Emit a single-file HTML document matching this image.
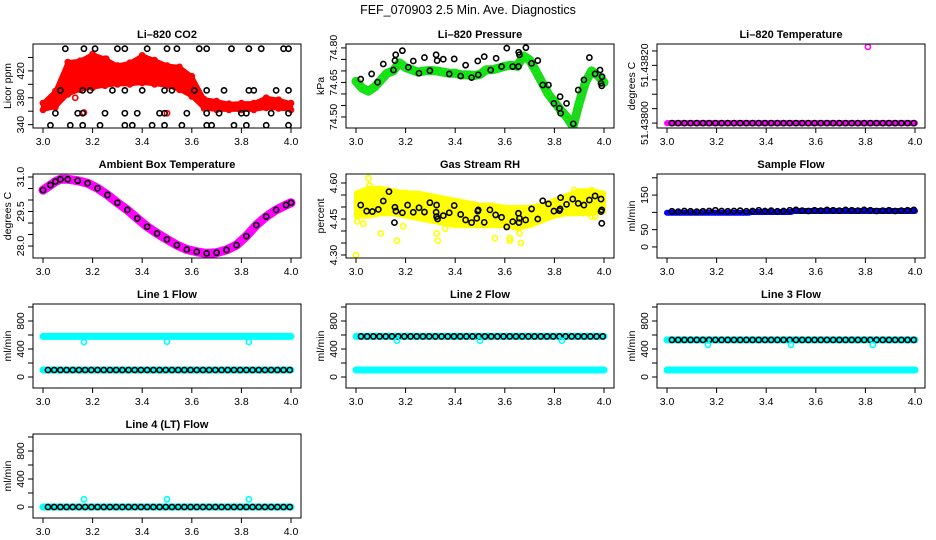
<!DOCTYPE html>
<html><head><meta charset="utf-8"><style>
html,body{margin:0;padding:0;background:#fff;}
svg{display:block;font-family:"Liberation Sans",Arial,sans-serif;}
</style></head><body>
<svg id="chart" width="936" height="540" viewBox="0 0 936 540">
<text x="468" y="14" text-anchor="middle" font-size="12.5">FEF_070903  2.5 Min. Ave. Diagnostics</text>
</svg>
<script>
// ---------- data ----------
const avgTimes = [3.02,3.045,3.07,3.095,3.12,3.145,3.17,3.195,3.22,3.245,3.27,3.295,3.32,3.345,3.37,3.395,3.42,3.445,3.47,3.495,3.52,3.545,3.57,3.595,3.62,3.645,3.67,3.695,3.72,3.745,3.77,3.795,3.82,3.845,3.87,3.895,3.92,3.945,3.97,3.995];

const co2T = [3.00,3.05,3.10,3.15,3.20,3.25,3.30,3.35,3.40,3.45,3.50,3.55,3.60,3.65,3.70,3.75,3.80,3.85,3.90,3.95,4.00];
const co2Upper = [372,390,433,435,445,438,428,432,443,436,428,426,412,378,375,371,372,372,380,377,372];
const co2Lower = [362,366,385,392,395,398,400,400,402,400,398,392,382,364,362,362,362,362,365,364,362];
const co2OutT = [3.06,3.105,3.165,3.5,3.255,3.42,3.19,3.13];
const co2OutV = [385,388,358,357,438,432,427,380];
const co2BlackT = [3.09,3.165,3.21,3.30,3.33,3.42,3.50,3.54,3.63,3.66,3.76,3.83,3.88,3.97,3.99,
  3.07,3.16,3.19,3.28,3.33,3.40,3.49,3.52,3.61,3.66,3.73,3.83,3.85,3.94,3.99,
  3.05,3.14,3.16,3.25,3.33,3.38,3.47,3.49,3.58,3.66,3.71,3.80,3.82,3.92,3.99,
  3.03,3.11,3.16,3.23,3.33,3.36,3.44,3.49,3.56,3.66,3.68,3.77,3.82,3.90,3.99];
const co2BlackV = [453,453,453,453,453,453,453,453,453,453,453,453,453,453,453,
  391,391,391,391,391,391,391,391,391,391,391,391,391,391,391,
  357,357,357,357,357,357,357,357,357,357,357,357,357,357,357,
  339,339,339,339,339,339,339,339,339,339,339,339,339,339,339];

const presT = [3.000,3.025,3.050,3.075,3.100,3.125,3.150,3.175,3.200,3.225,3.250,3.275,3.300,3.325,3.350,3.375,3.400,3.425,3.450,3.475,3.500,3.525,3.550,3.575,3.600,3.625,3.650,3.675,3.700,3.725,3.750,3.775,3.800,3.825,3.850,3.875,3.900,3.925,3.950,3.975,4.000];
const presGreen = [74.655,74.625,74.612,74.630,74.660,74.690,74.700,74.735,74.715,74.705,74.695,74.700,74.702,74.700,74.695,74.690,74.690,74.683,74.683,74.680,74.685,74.705,74.705,74.712,74.720,74.725,74.720,74.765,74.748,74.700,74.650,74.600,74.565,74.530,74.500,74.458,74.560,74.650,74.700,74.680,74.650];
const presBlackT = [3.019,3.063,3.087,3.110,3.151,3.157,3.160,3.187,3.211,3.231,3.254,3.276,3.298,3.323,3.327,3.352,3.376,3.396,3.422,3.442,3.466,3.491,3.493,3.517,3.543,3.565,3.587,3.608,3.632,3.655,3.656,3.659,3.685,3.708,3.733,3.753,3.776,3.798,3.820,3.823,3.825,3.849,3.876,3.896,3.919,3.941,3.964,3.984,3.988,3.991,3.992];
const presBlackV = [74.664,74.687,74.651,74.730,74.704,74.745,74.770,74.788,74.716,74.743,74.690,74.758,74.701,74.770,74.745,74.751,74.687,74.752,74.678,74.725,74.671,74.743,74.683,74.762,74.704,74.755,74.719,74.799,74.719,74.719,74.781,74.770,74.801,74.733,74.745,74.639,74.639,74.559,74.538,74.588,74.516,74.559,74.470,74.617,74.661,74.758,74.687,74.704,74.646,74.635,74.675];

const tempBandT = [3.00,4.00];
const tempBandV = [51.43800,51.43800];
const tempBlack = [51.438,51.438,51.438,51.438,51.438,51.438,51.438,51.438,51.438,51.438,51.438,51.438,51.438,51.438,51.438,51.438,51.438,51.438,51.438,51.438,51.438,51.438,51.438,51.438,51.438,51.438,51.438,51.438,51.438,51.438,51.438,51.438,51.438,51.438,51.438,51.438,51.438,51.438,51.438,51.438];
const tempOutT = [3.81];
const tempOutV = [51.438264];

const ambT = [3.00,3.03,3.05,3.07,3.10,3.14,3.18,3.22,3.26,3.30,3.34,3.38,3.42,3.46,3.50,3.54,3.58,3.62,3.66,3.70,3.74,3.78,3.82,3.86,3.90,3.94,3.98,4.00];
const ambV = [30.43,30.65,30.80,30.90,30.90,30.84,30.73,30.51,30.22,29.88,29.57,29.20,28.84,28.55,28.29,28.04,27.85,27.75,27.68,27.71,27.83,28.04,28.43,28.91,29.28,29.57,29.78,29.88];

const rhT = [3.00,3.05,3.10,3.15,3.20,3.25,3.30,3.35,3.40,3.45,3.50,3.55,3.60,3.65,3.70,3.75,3.80,3.85,3.90,3.95,4.00];
const rhUpper = [4.56,4.58,4.58,4.57,4.56,4.56,4.55,4.54,4.53,4.52,4.51,4.51,4.50,4.50,4.50,4.51,4.53,4.55,4.57,4.57,4.56];
const rhLower = [4.46,4.46,4.47,4.47,4.46,4.45,4.44,4.43,4.42,4.42,4.42,4.42,4.42,4.41,4.42,4.44,4.46,4.47,4.47,4.47,4.48];
const rhOutT = [3.00,3.005,3.03,3.05,3.055,3.10,3.165,3.19,3.325,3.33,3.36,3.56,3.62,3.62,3.665,3.66,3.95,3.965,3.125,3.20,3.88,3.95];
const rhOutV = [4.30,4.44,4.43,4.62,4.59,4.39,4.36,4.42,4.39,4.36,4.41,4.37,4.36,4.37,4.35,4.39,4.46,4.46,4.57,4.56,4.57,4.57];
const rhBlackT = [3.019,3.043,3.066,3.090,3.110,3.133,3.155,3.157,3.161,3.187,3.208,3.231,3.254,3.276,3.298,3.323,3.325,3.325,3.329,3.352,3.376,3.396,3.422,3.442,3.466,3.487,3.491,3.493,3.517,3.540,3.563,3.587,3.608,3.632,3.655,3.657,3.659,3.684,3.708,3.733,3.753,3.776,3.798,3.820,3.823,3.825,3.849,3.874,3.896,3.919,3.941,3.964,3.988,3.988,3.991,3.991];
const rhBlackV = [4.508,4.483,4.481,4.490,4.525,4.564,4.435,4.499,4.483,4.476,4.508,4.478,4.497,4.479,4.518,4.478,4.508,4.460,4.450,4.464,4.476,4.506,4.469,4.446,4.435,4.453,4.483,4.488,4.436,4.488,4.467,4.457,4.417,4.439,4.474,4.435,4.453,4.446,4.492,4.450,4.526,4.513,4.483,4.485,4.492,4.539,4.511,4.533,4.515,4.508,4.529,4.546,4.533,4.481,4.488,4.432];

const sampBlueT = [3.00,3.33,3.34,3.50,3.51,4.00];
const sampBlueV = [99,99,101,101,104,104];
const sampBlack = [103,102,104,103,102,103,104,106,104,103,104,105,103,104,106,104,105,103,104,106,107,105,104,106,105,107,106,105,107,106,105,107,106,104,105,106,104,105,106,107];

const bandT = [3.00,4.00];
const line1CyanHi = [580,580];
const line1CyanLo = [100,100];
const line1Black = [100,100,100,100,100,100,100,100,100,100,100,100,100,100,100,100,100,100,100,100,100,100,100,100,100,100,100,100,100,100,100,100,100,100,100,100,100,100,100,100];
const line2CyanHi = [580,580];
const line2CyanLo = [100,100];
const line2Black = [580,580,580,580,580,580,580,580,580,580,580,580,580,580,580,580,580,580,580,580,580,580,580,580,580,580,580,580,580,580,580,580,580,580,580,580,580,580,580,580];
const line3CyanHi = [530,530];
const line3CyanLo = [100,100];
const line3Black = [530,530,530,530,530,530,530,530,530,530,530,530,530,530,530,530,530,530,530,530,530,530,530,530,530,530,530,530,530,530,530,530,530,530,530,530,530,530,530,530];
const line4CyanLo = [0,0];
const line4Black = [0,0,0,0,0,0,0,0,0,0,0,0,0,0,0,0,0,0,0,0,0,0,0,0,0,0,0,0,0,0,0,0,0,0,0,0,0,0,0,0];
const dipT = [3.165,3.50,3.83];
const line1Dip = [500,505,500];
const line2Dip = [520,520,520];
const line3Dip = [460,460,460];
const line4Dip = [110,110,110];

const xTicks = [3.0,3.2,3.4,3.6,3.8,4.0];
const xTickLabels = ['3.0','3.2','3.4','3.6','3.8','4.0'];
const co2Ticks = [340,360,380,400,420,440];
const co2Labels = ['340','','380','','420',''];
const presTicks = [74.50,74.55,74.60,74.65,74.70,74.75,74.80];
const presLabels = ['74.50','','','74.65','','','74.80'];
const tempTicks = [51.43800,51.43805,51.43810,51.43815,51.43820,51.43825];
const tempLabels = ['51.43800','','','','51.43820',''];
const ambTicks = [28.0,28.5,29.0,29.5,30.0,30.5,31.0];
const ambLabels = ['28.0','','','29.5','','','31.0'];
const rhTicks = [4.30,4.35,4.40,4.45,4.50,4.55,4.60];
const rhLabels = ['4.30','','','4.45','','','4.60'];
const sampTicks = [0,50,100,150,200];
const sampLabels = ['0','50','','150',''];
const flowTicks = [0,200,400,600,800,1000];
const flowLabels = ['0','','400','','800',''];

// ---------- drawing ----------
const NS = 'http://www.w3.org/2000/svg';
const svg = document.getElementById('chart');
function mk(tag, attrs, parent) {
  const e = document.createElementNS(NS, tag);
  for (const k in attrs) e.setAttribute(k, attrs[k]);
  (parent || svg).appendChild(e);
  return e;
}
const colLeft = [33, 346, 657];
const rowTop = [44, 174, 304, 434];
const W = 268, H = 84;

function panel(col, row, yMin, yMax, name) {
  const left = colLeft[col], top = rowTop[row];
  const g = mk('g', {});
  
  
  const cid = 'clip-' + name;
  const cp = mk('clipPath', {id: cid}, g);
  mk('rect', {x: left, y: top, width: W, height: H}, cp);
  const plot = mk('g', {'clip-path': 'url(#' + cid + ')'}, g);
  return {
    left, top, g, plot,
    sx: t => left + 10 + (t - 3) * 248,
    sy: v => top + H - (v - yMin) / (yMax - yMin) * H
  };
}

function axes(p, title, ylab, yTicks, yLabels) {
  const t = mk('text', {x: p.left + W / 2, y: p.top - 6, 'text-anchor': 'middle', 'font-size': 11, 'font-weight': 'bold'}, p.g);
  t.textContent = title;
  
  
  const box = mk('rect', {x: p.left, y: p.top, width: W, height: H, fill: 'none', stroke: '#000', 'stroke-width': 1}, p.g);
  
  
  const xa = mk('g', {}, p.g);
  
  
  xTicks.forEach((v, i) => {
    const x = p.sx(v);
    mk('line', {x1: x, x2: x, y1: p.top + H, y2: p.top + H + 5, stroke: '#000'}, xa);
    const l = mk('text', {x: x, y: p.top + H + 17, 'text-anchor': 'middle', 'font-size': 10.5}, xa);
    l.textContent = xTickLabels[i];
    
    
  });
  const ya = mk('g', {}, p.g);
  
  
  yTicks.forEach((v, i) => {
    const y = p.sy(v);
    mk('line', {x1: p.left - 5, x2: p.left, y1: y, y2: y, stroke: '#000'}, ya);
    if (yLabels[i]) {
      const lx = p.left - 9;
      const l = mk('text', {x: lx, y: y, 'text-anchor': 'middle', 'font-size': 10.5, transform: 'rotate(-90 ' + lx + ' ' + y + ')'}, ya);
      l.textContent = yLabels[i];
      
      
    }
  });
  const tx = p.left - 22, ty = p.top + H / 2;
  const yt = mk('text', {x: tx, y: ty, 'text-anchor': 'middle', 'font-size': 10.5, transform: 'rotate(-90 ' + tx + ' ' + ty + ')'}, p.g);
  yt.textContent = ylab;
  
  
}

function dots(p, ts, vs, color, name, sw) {
  ts.forEach((t, i) => {
    const c = mk('circle', {cx: p.sx(t), cy: p.sy(vs[i]), r: 2.6, fill: 'none', stroke: color, 'stroke-width': sw || 1.6}, p.plot);
    
    
  });
}
function band(p, ts, vs, color, width, name) {
  const pts = ts.map((t, i) => p.sx(t) + ',' + p.sy(vs[i])).join(' ');
  const l = mk('polyline', {points: pts, fill: 'none', stroke: color, 'stroke-width': width, 'stroke-linejoin': 'round', 'stroke-linecap': 'round'}, p.plot);
  
  
}
function area(p, ts, hi, lo, color, name) {
  const up = ts.map((t, i) => p.sx(t) + ',' + p.sy(hi[i]));
  const dn = ts.map((t, i) => p.sx(t) + ',' + p.sy(lo[i])).reverse();
  const a = mk('polygon', {points: up.concat(dn).join(' '), fill: color, stroke: color, 'stroke-width': 4, 'stroke-linejoin': 'round'}, p.plot);
  
  
}

// Li-820 CO2
let p = panel(0, 0, 335, 460, 'co2-panel');
area(p, co2T, co2Upper, co2Lower, '#ff0000', 'co2-band');
dots(p, co2T, co2Upper, '#ff0000', 'co2-point');
dots(p, co2T, co2Lower, '#ff0000', 'co2-point');
dots(p, co2OutT, co2OutV, '#ff0000', 'co2-outlier');
dots(p, co2BlackT, co2BlackV, '#000', 'co2-average-point');
axes(p, 'Li\u2013820 CO2', 'Licor ppm', co2Ticks, co2Labels);

// Li-820 Pressure
p = panel(1, 0, 74.452, 74.817, 'pressure-panel');
band(p, presT, presGreen, '#1ed81e', 9, 'pressure-band');
dots(p, presT, presGreen, '#00ff00', 'pressure-point', 1);
dots(p, presBlackT, presBlackV, '#000', 'pressure-average-point');
axes(p, 'Li\u2013820 Pressure', 'kPa', presTicks, presLabels);

// Li-820 Temperature
p = panel(2, 0, 51.437983, 51.438274, 'temperature-panel');
band(p, tempBandT, tempBandV, '#ff00ff', 6, 'temperature-band');
dots(p, avgTimes, tempBlack, '#000', 'temperature-average-point');
dots(p, tempOutT, tempOutV, '#ff00ff', 'temperature-outlier');
axes(p, 'Li\u2013820 Temperature', 'degrees C', tempTicks, tempLabels);

// Ambient Box Temperature
p = panel(0, 1, 27.48, 31.13, 'ambient-panel');
band(p, ambT, ambV, '#ff00ff', 9, 'ambient-band');
dots(p, ambT, ambV, '#000', 'ambient-average-point');
axes(p, 'Ambient Box Temperature', 'degrees C', ambTicks, ambLabels);

// Gas Stream RH
p = panel(1, 1, 4.2875, 4.6375, 'rh-panel');
area(p, rhT, rhUpper, rhLower, '#ffff00', 'rh-band');
dots(p, rhOutT, rhOutV, '#ffff00', 'rh-outlier');
dots(p, rhBlackT, rhBlackV, '#000', 'rh-average-point');
axes(p, 'Gas Stream RH', 'percent', rhTicks, rhLabels);

// Sample Flow
p = panel(2, 1, -32, 211, 'sample-flow-panel');
band(p, sampBlueT, sampBlueV, '#0000ff', 6, 'sample-flow-band');
dots(p, avgTimes, sampBlack, '#000', 'sample-flow-average-point');
axes(p, 'Sample Flow', 'ml/min', sampTicks, sampLabels);

// Line 1 Flow
p = panel(0, 2, -157, 1043, 'line1-panel');
band(p, bandT, line1CyanHi, '#00ffff', 7, 'line1-cyan-high');
band(p, bandT, line1CyanLo, '#00ffff', 7, 'line1-cyan-low');
dots(p, avgTimes, line1Black, '#000', 'line1-average-point');
dots(p, dipT, line1Dip, '#00ffff', 'line1-dip');
axes(p, 'Line 1 Flow', 'ml/min', flowTicks, flowLabels);

// Line 2 Flow
p = panel(1, 2, -157, 1043, 'line2-panel');
band(p, bandT, line2CyanHi, '#00ffff', 7, 'line2-cyan-high');
band(p, bandT, line2CyanLo, '#00ffff', 7, 'line2-cyan-low');
dots(p, avgTimes, line2Black, '#000', 'line2-average-point');
dots(p, dipT, line2Dip, '#00ffff', 'line2-dip');
axes(p, 'Line 2 Flow', 'ml/min', flowTicks, flowLabels);

// Line 3 Flow
p = panel(2, 2, -157, 1043, 'line3-panel');
band(p, bandT, line3CyanHi, '#00ffff', 7, 'line3-cyan-high');
band(p, bandT, line3CyanLo, '#00ffff', 7, 'line3-cyan-low');
dots(p, avgTimes, line3Black, '#000', 'line3-average-point');
dots(p, dipT, line3Dip, '#00ffff', 'line3-dip');
axes(p, 'Line 3 Flow', 'ml/min', flowTicks, flowLabels);

// Line 4 Flow
p = panel(0, 3, -157, 1043, 'line4-panel');
band(p, bandT, line4CyanLo, '#00ffff', 7, 'line4-cyan-low');
dots(p, avgTimes, line4Black, '#000', 'line4-average-point');
dots(p, dipT, line4Dip, '#00ffff', 'line4-dip');
axes(p, 'Line 4 (LT) Flow', 'ml/min', flowTicks, flowLabels);
</script>
</body></html>
